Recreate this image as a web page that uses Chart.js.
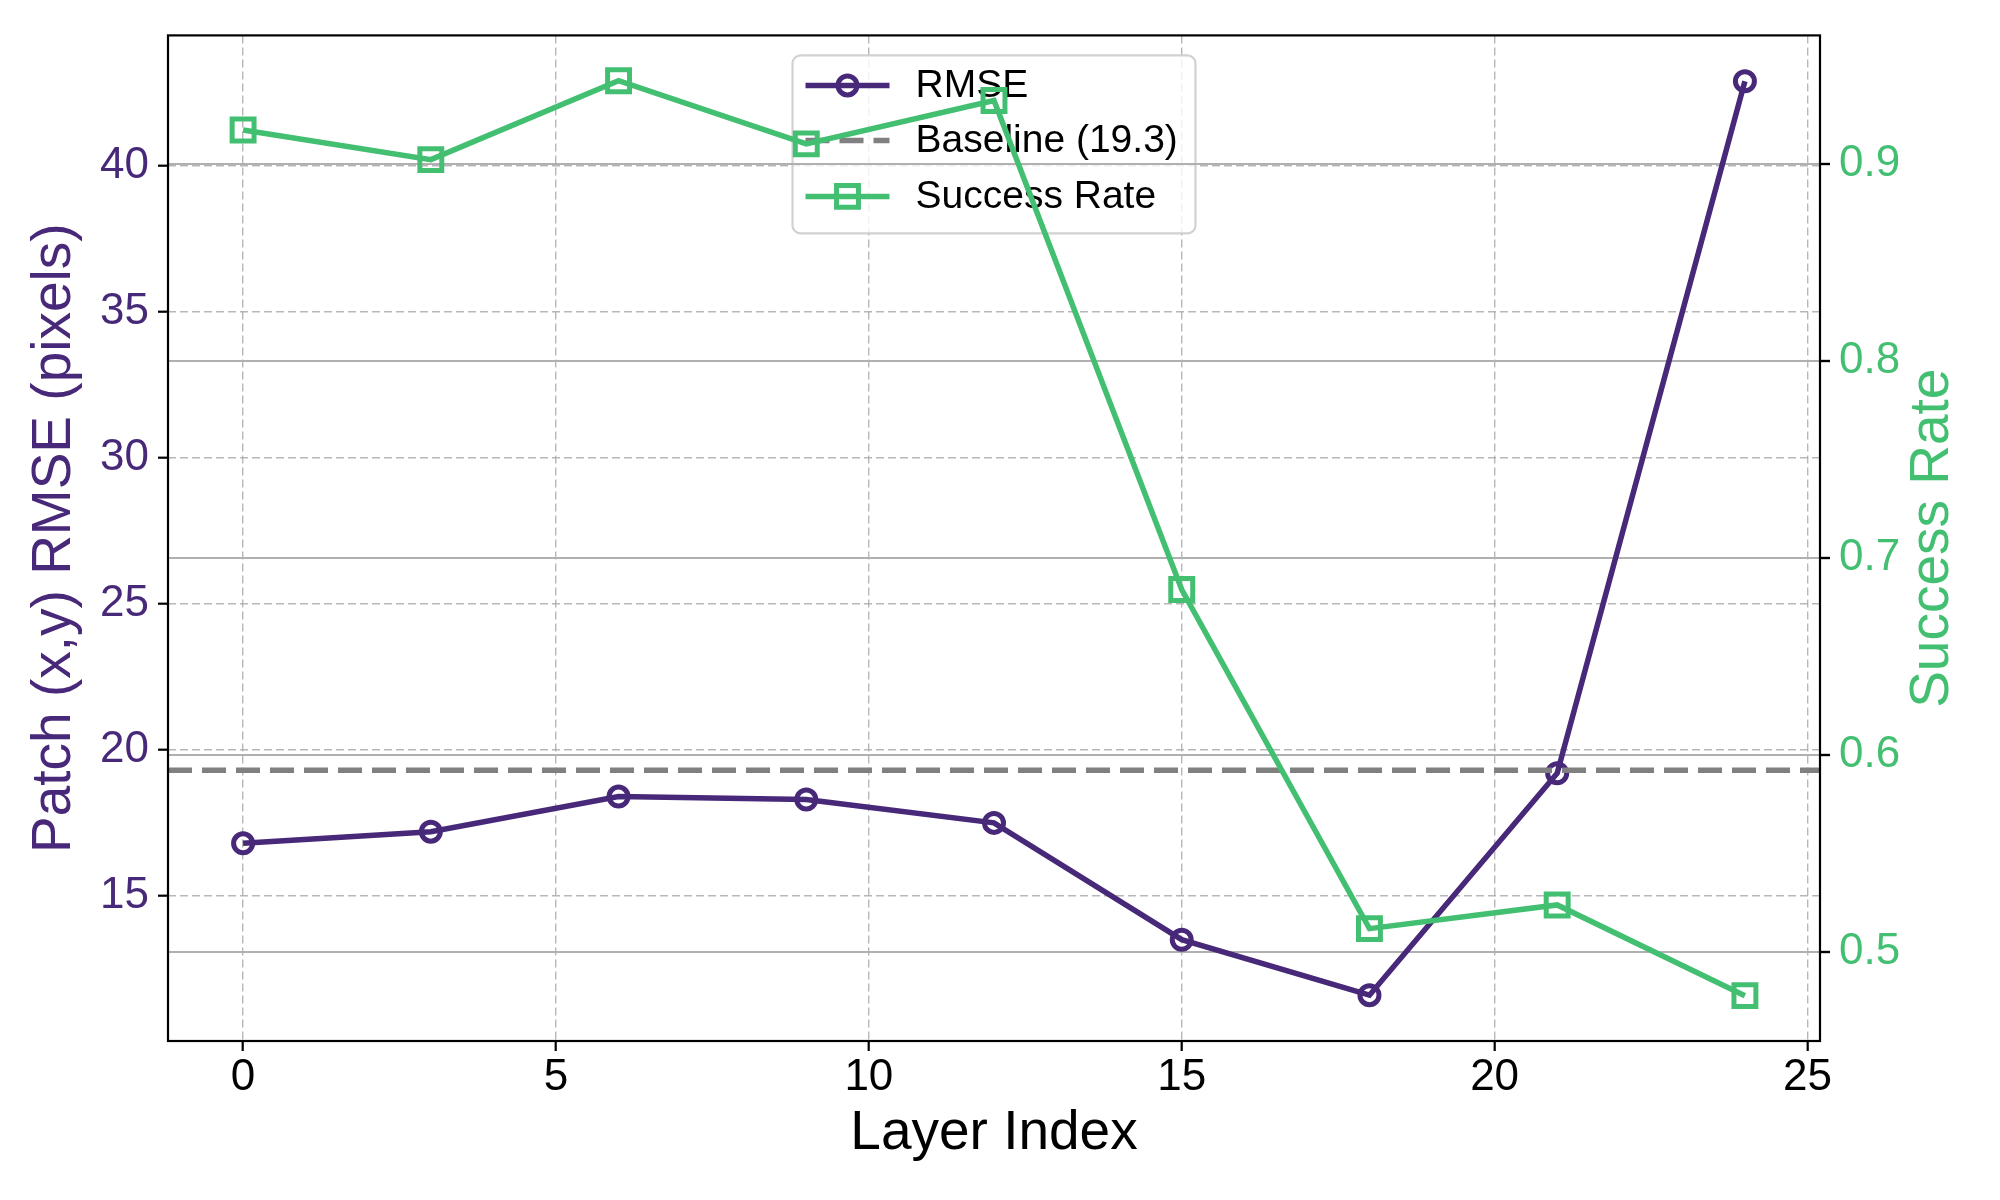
<!DOCTYPE html>
<html>
<head>
<meta charset="utf-8">
<script src="https://cdn.jsdelivr.net/npm/chart.js@4.4.1/dist/chart.umd.min.js"></script>
<style>
  html, body { margin: 0; padding: 0; background: #ffffff; }
  #chart { display: block; width: 2000px; height: 1200px; }
</style>
</head>
<body>
<canvas id="chart" width="2000" height="1200"></canvas>
<script>
// Data
const layers = [0, 3, 6, 9, 12, 15, 18, 21, 24];
const rmse = [16.8, 17.2, 18.4, 18.3, 17.5, 13.5, 11.6, 19.2, 42.9];
const successRate = [0.917, 0.902, 0.942, 0.910, 0.932, 0.684, 0.512, 0.524, 0.478];
const baselineRmse = 19.3;

// Tick labels
const layerTicks = [0, 5, 10, 15, 20, 25];
const rmseTicks = [15, 20, 25, 30, 35, 40];
const rateTicks = [0.5, 0.6, 0.7, 0.8, 0.9];

// Axis limits (matplotlib-style 5% margins)
const layerRange = [-1.2, 25.2];
const rmseRange = [10.03, 44.47];
const rateRange = [0.455, 0.965];

const PURPLE = '#482878';
const GREEN = '#43bf71';
const GRAY = '#808080';
const FONT = '"Liberation Sans", Arial, sans-serif';

const LINE_W = 5.5;
const CIRCLE_R = 9.5;
const SQUARE_R = 15.5;
const MARKER_W = 5;

const tickFont = { family: FONT, size: 44, lineHeight: 1.2 };
const titleFont = { family: FONT, size: 55, lineHeight: 1.2 };

/**
 * Legend box drawn under the datasets (like an ax1 legend under ax2 lines)
 */
const boxLegend = {
    id: 'boxLegend',
    beforeDatasetsDraw(chart) {
        const ctx = chart.ctx;
        const ca = chart.chartArea;
        const w = 403, h = 178;
        const left = (ca.left + ca.right) / 2 - w / 2;
        const top = ca.top + 20;

        ctx.save();
        ctx.beginPath();
        ctx.roundRect(left, top, w, h, 8);
        ctx.fillStyle = 'rgba(255,255,255,0.8)';
        ctx.fill();
        ctx.lineWidth = 2.2;
        ctx.strokeStyle = 'rgba(204,204,204,0.9)';
        ctx.stroke();

        const items = [
            { label: 'RMSE', color: PURPLE, dash: [], marker: 'circle', r: CIRCLE_R },
            { label: 'Baseline (19.3)', color: GRAY, dash: [24, 10], marker: null },
            { label: 'Success Rate', color: GREEN, dash: [], marker: 'rect', r: SQUARE_R }
        ];
        const rowY = [30, 85, 141];
        const x0 = left + 13, x1 = left + 97;

        items.forEach((it, i) => {
            const y = top + rowY[i];
            ctx.save();
            ctx.strokeStyle = it.color;
            ctx.lineWidth = LINE_W;
            ctx.setLineDash(it.dash);
            ctx.beginPath();
            ctx.moveTo(x0, y);
            ctx.lineTo(x1, y);
            ctx.stroke();
            ctx.setLineDash([]);
            if (it.marker) {
                ctx.fillStyle = 'rgba(0,0,0,0)';
                ctx.lineWidth = MARKER_W;
                Chart.helpers.drawPoint(ctx, {
                    pointStyle: it.marker,
                    radius: it.r,
                    borderWidth: MARKER_W,
                    rotation: 0
                }, (x0 + x1) / 2, y);
            }
            ctx.restore();

            ctx.fillStyle = '#000000';
            ctx.font = '39px ' + FONT;
            ctx.textAlign = 'left';
            ctx.textBaseline = 'middle';
            ctx.fillText(it.label, left + 123, y + 1);
        });
        ctx.restore();

        // twin-axis solid grid sits on top of the legend
        chart.scales.y2.drawGrid(ca);
    },
    afterDatasetsDraw(chart) {
        const ctx = chart.ctx;
        const ca = chart.chartArea;
        ctx.save();
        ctx.strokeStyle = '#000000';
        ctx.lineWidth = 2.2;
        ctx.strokeRect(ca.left, ca.top, ca.right - ca.left, ca.bottom - ca.top);
        ctx.restore();
    },
    afterDraw(chart) {
        // right axis title reads bottom-to-top, as in matplotlib
        const ctx = chart.ctx;
        const ca = chart.chartArea;
        const s = chart.scales.y2;
        ctx.save();
        ctx.translate(s.right - 67, (ca.top + ca.bottom) / 2);
        ctx.rotate(-Math.PI / 2);
        ctx.fillStyle = GREEN;
        ctx.font = '55px ' + FONT;
        ctx.textAlign = 'center';
        ctx.textBaseline = 'middle';
        ctx.fillText('Success Rate', 0, 0);
        ctx.restore();
    }
};

const toPoints = (ys) => layers.map((x, i) => ({ x: x, y: ys[i] }));
const setTicks = (values) => (scale) => { scale.ticks = values.map(v => ({ value: v })); };

new Chart(document.getElementById('chart'), {
    type: 'line',
    data: {
        datasets: [{
            label: 'RMSE',
            data: toPoints(rmse),
            yAxisID: 'y',
            borderColor: PURPLE,
            borderWidth: LINE_W,
            pointStyle: 'circle',
            pointRadius: CIRCLE_R,
            pointBorderWidth: MARKER_W,
            pointBorderColor: PURPLE,
            pointBackgroundColor: 'rgba(0,0,0,0)',
            tension: 0,
            order: 3
        }, {
            label: 'Baseline (19.3)',
            data: [{ x: layerRange[0], y: baselineRmse }, { x: layerRange[1], y: baselineRmse }],
            yAxisID: 'y',
            borderColor: GRAY,
            borderWidth: LINE_W,
            borderDash: [24, 10],
            pointRadius: 0,
            order: 2
        }, {
            label: 'Success Rate',
            data: toPoints(successRate),
            yAxisID: 'y2',
            borderColor: GREEN,
            borderWidth: LINE_W,
            pointStyle: 'rect',
            pointRadius: SQUARE_R,
            pointBorderWidth: MARKER_W,
            pointBorderColor: GREEN,
            pointBackgroundColor: 'rgba(0,0,0,0)',
            tension: 0,
            order: 1
        }]
    },
    options: {
        responsive: false,
        devicePixelRatio: 1,
        animation: false,
        layout: { padding: { top: 35, left: 0, right: 0, bottom: 0 } },
        plugins: {
            legend: { display: false },
            tooltip: { enabled: false }
        },
        scales: {
            x: {
                type: 'linear',
                position: 'bottom',
                min: layerRange[0],
                max: layerRange[1],
                afterBuildTicks: setTicks(layerTicks),
                afterFit: (s) => { s.height = 159; },
                ticks: {
                    autoSkip: false,
                    maxRotation: 0,
                    padding: 0,
                    color: '#000000',
                    font: tickFont,
                    callback: (v) => String(v)
                },
                grid: {
                    color: 'rgba(170,170,170,0.85)',
                    lineWidth: 1.4,
                    tickLength: 10,
                    tickWidth: 2.2,
                    tickColor: '#000000',
                    tickBorderDash: []
                },
                border: { display: false, dash: [8, 4] },
                title: {
                    display: true,
                    text: 'Layer Index',
                    color: '#000000',
                    font: titleFont,
                    padding: { top: 0, bottom: 33 }
                }
            },
            y: {
                type: 'linear',
                position: 'left',
                min: rmseRange[0],
                max: rmseRange[1],
                afterBuildTicks: setTicks(rmseTicks),
                afterFit: (s) => { s.width = 168; },
                ticks: {
                    autoSkip: false,
                    padding: 9,
                    color: PURPLE,
                    font: tickFont,
                    callback: (v) => String(v)
                },
                grid: {
                    color: 'rgba(170,170,170,0.85)',
                    lineWidth: 1.4,
                    tickLength: 10,
                    tickWidth: 2.2,
                    tickColor: '#000000',
                    tickBorderDash: []
                },
                border: { display: false, dash: [8, 4] },
                title: {
                    display: true,
                    text: 'Patch (x,y) RMSE (pixels)',
                    color: PURPLE,
                    font: titleFont,
                    padding: { top: 22, bottom: 0 }
                }
            },
            y2: {
                type: 'linear',
                position: 'right',
                min: rateRange[0],
                max: rateRange[1],
                afterBuildTicks: setTicks(rateTicks),
                afterFit: (s) => { s.width = 180; },
                ticks: {
                    autoSkip: false,
                    padding: 9,
                    color: GREEN,
                    font: tickFont,
                    callback: (v) => String(v)
                },
                grid: {
                    color: '#b0b0b0',
                    lineWidth: 2,
                    tickLength: 10,
                    tickWidth: 2.2,
                    tickColor: '#000000',
                    tickBorderDash: []
                },
                border: { display: false },
                title: { display: false }
            }
        }
    },
    plugins: [boxLegend]
});
</script>
</body>
</html>
